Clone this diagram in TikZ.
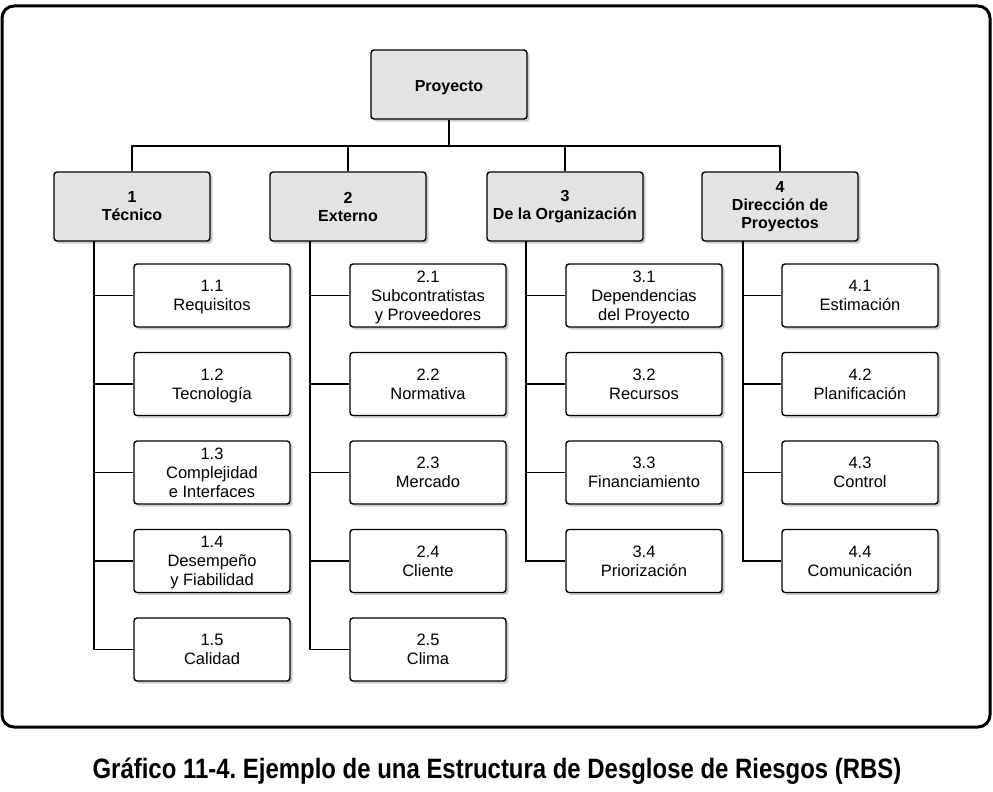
\documentclass[tikz,border=0pt]{standalone}
\usepackage{fontspec}
\setmainfont{Liberation Sans}
\newfontfamily\capfont[FakeStretch=0.855]{Liberation Sans}
\usepackage{tikz}
\usetikzlibrary{shadows}
\frenchspacing

\begin{document}
\begin{tikzpicture}[
    x=1pt, y=-1pt,
    box/.style={draw, line width=1.4pt, rounded corners=3pt, fill=white, minimum width=156pt, minimum height=63pt, align=center, font=\fontsize{16.5}{19}\selectfont, execute at begin node={\rule{0pt}{18pt}}, text depth=0pt, drop shadow={shadow xshift=2.5pt, shadow yshift=-2.5pt, fill=black!40}},
    head/.style={box, fill=black!11, minimum height=69pt, font=\bfseries\fontsize{16}{18}\selectfont, execute at begin node={}, text depth={}},
    link/.style={line width=1.4pt}
]
    \useasboundingbox (0,0) rectangle (993,792);

    % Frame
    \draw[line width=3pt, rounded corners=12pt] (2,6) rectangle (990,727);

    % Root
    \node[head] (proy) at (449, 84.5) {Proyecto};
    \coordinate (bar) at (449, 146);

    % Categories
    \node[head] (tec) at (132, 206.5) {1\\T\'ecnico};
    \node[head] (ext) at (348, 206.5) {2\\Externo};
    \node[head] (org) at (565, 206.5) {3\\De la Organizaci\'on};
    \node[head] (dir) at (780, 206.5) {4\\Direcci\'on de\\Proyectos};

    % 1 Tecnico
    \node[box] (req) at (212, 295.5) {1.1\\Requisitos};
    \node[box] (tecn) at (212, 384) {1.2\\Tecnolog\'ia};
    \node[box] (comp) at (212, 472.5) {1.3\\Complejidad\\e Interfaces};
    \node[box] (des) at (212, 561) {1.4\\Desempe\~no\\y Fiabilidad};
    \node[box] (cal) at (212, 649.5) {1.5\\Calidad};

    % 2 Externo
    \node[box] (sub) at (428, 295.5) {2.1\\Subcontratistas\\y Proveedores};
    \node[box] (norm) at (428, 384) {2.2\\Normativa};
    \node[box] (merc) at (428, 472.5) {2.3\\Mercado};
    \node[box] (cli) at (428, 561) {2.4\\Cliente};
    \node[box] (clima) at (428, 649.5) {2.5\\Clima};

    % 3 Organizacion
    \node[box] (dep) at (644, 295.5) {3.1\\Dependencias\\del Proyecto};
    \node[box] (rec) at (644, 384) {3.2\\Recursos};
    \node[box] (fin) at (644, 472.5) {3.3\\Financiamiento};
    \node[box] (prio) at (644, 561) {3.4\\Priorizaci\'on};

    % 4 Direccion
    \node[box] (est) at (860, 295.5) {4.1\\Estimaci\'on};
    \node[box] (plan) at (860, 384) {4.2\\Planificaci\'on};
    \node[box] (ctrl) at (860, 472.5) {4.3\\Control};
    \node[box] (com) at (860, 561) {4.4\\Comunicaci\'on};

    % Trunks
    \coordinate (t1) at (94, 241);
    \coordinate (t2) at (310, 241);
    \coordinate (t3) at (526, 241);
    \coordinate (t4) at (743, 241);

    % Links
    \draw[link] (proy) -- (bar);
    \draw[link] (bar) -| (tec.north);
    \draw[link] (bar) -| (ext.north);
    \draw[link] (bar) -| (org.north);
    \draw[link] (bar) -| (dir.north);

    \draw[link] (t1) |- (cal.west);
    \draw[link] (t1) |- (req.west);
    \draw[link] (t1) |- (tecn.west);
    \draw[link] (t1) |- (comp.west);
    \draw[link] (t1) |- (des.west);

    \draw[link] (t2) |- (clima.west);
    \draw[link] (t2) |- (sub.west);
    \draw[link] (t2) |- (norm.west);
    \draw[link] (t2) |- (merc.west);
    \draw[link] (t2) |- (cli.west);

    \draw[link] (t3) |- (prio.west);
    \draw[link] (t3) |- (dep.west);
    \draw[link] (t3) |- (rec.west);
    \draw[link] (t3) |- (fin.west);

    \draw[link] (t4) |- (com.west);
    \draw[link] (t4) |- (est.west);
    \draw[link] (t4) |- (plan.west);
    \draw[link] (t4) |- (ctrl.west);

    % Caption
    \node[anchor=base, font=\capfont\bfseries\fontsize{28}{30}\selectfont] (cap) at (497, 778) {Gr\'afico 11-4. Ejemplo de una Estructura de Desglose de Riesgos (RBS)};
\end{tikzpicture}
\end{document}
